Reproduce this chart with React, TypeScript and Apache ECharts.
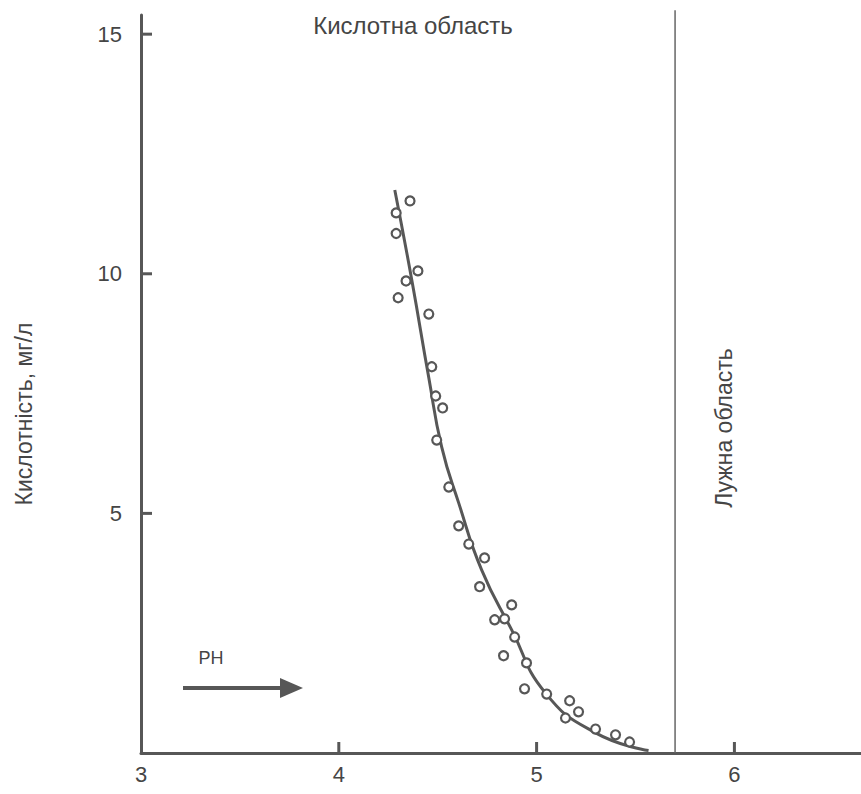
import React, { useEffect, useRef } from "react";
import * as echarts from "echarts";

const xTicks = [3, 4, 5, 6];
const yTicks = [5, 10, 15];
const xTickMarks = [4, 5, 6];

const pointsPH = [4.36, 4.29, 4.29, 4.4, 4.34, 4.3, 4.455, 4.47, 4.49, 4.525, 4.495, 4.556, 4.606, 4.657, 4.737, 4.712, 4.874, 4.788, 4.838, 4.889, 4.833, 4.949, 4.939, 5.051, 5.167, 5.146, 5.212, 5.298, 5.399, 5.47];
const pointsAcidity = [11.52, 11.27, 10.84, 10.06, 9.85, 9.5, 9.16, 8.06, 7.45, 7.2, 6.53, 5.55, 4.74, 4.36, 4.07, 3.47, 3.09, 2.78, 2.8, 2.42, 2.03, 1.88, 1.34, 1.23, 1.09, 0.73, 0.86, 0.5, 0.38, 0.23];

const curvePH = [4.283, 4.369, 4.455, 4.52, 4.606, 4.722, 4.874, 5.045, 5.298, 5.566];
const curveAcidity = [11.75, 9.87, 7.83, 6.39, 5.22, 3.82, 2.57, 1.25, 0.42, 0.05];

const boundaryPH = 5.7;
const boundaryRange = [0, 15.5];

const titleAcid = "Кислотна область";
const titleAlkaline = "Лужна область";
const yName = "Кислотність, мг/л";
const arrowLabel = "PH";

const INK = "#575757";
const TXT = "#454545";
const FONT = "'Liberation Sans', Arial, sans-serif";
const TICK_LEN = 11;

export default function App() {
  const ref = useRef<HTMLDivElement>(null);
  useEffect(() => {
    if (!ref.current) return;
    const chart = echarts.init(ref.current, null, { renderer: "svg" });
    chart.setOption({
      animation: false,
      backgroundColor: "#ffffff",
      grid: { left: 141, right: 0, top: 15, bottom: 41, containLabel: false },
      xAxis: {
        type: "value",
        min: 3,
        max: 6.64,
        interval: 1,
        splitLine: { show: false },
        axisLine: { show: true, lineStyle: { color: INK, width: 3 } },
        axisTick: { show: false },
        axisLabel: {
          color: TXT,
          fontSize: 22,
          fontFamily: FONT,
          margin: 10,
          showMaxLabel: false,
          formatter: (v: number) => (xTicks.includes(v) ? String(v) : ""),
        },
      },
      yAxis: {
        type: "value",
        min: 0,
        max: 15.4,
        interval: 5,
        splitLine: { show: false },
        axisLine: { show: true, lineStyle: { color: INK, width: 3 } },
        axisTick: { show: false },
        axisLabel: {
          color: TXT,
          fontSize: 22,
          fontFamily: FONT,
          margin: 19,
          showMaxLabel: false,
          formatter: (v: number) => (yTicks.includes(v) ? String(v) : ""),
        },
      },
      series: [
        {
          type: "line",
          data: curvePH.map((x, i) => [x, curveAcidity[i]]),
          smooth: 0.5,
          showSymbol: false,
          symbol: "none",
          lineStyle: { color: INK, width: 3 },
          z: 3,
        },
        {
          type: "scatter",
          data: pointsPH.map((x, i) => [x, pointsAcidity[i]]),
          symbol: "circle",
          symbolSize: 9,
          itemStyle: { color: "#ffffff", borderColor: INK, borderWidth: 2.2, opacity: 1 },
          z: 4,
        },
        {
          type: "line",
          data: boundaryRange.map((y) => [boundaryPH, y]),
          showSymbol: false,
          symbol: "none",
          clip: false,
          lineStyle: { color: "#666666", width: 1.5 },
          z: 2,
        },
      ],
    });

    const tickGraphics: any[] = [];
    yTicks.forEach((v) => {
      const p = chart.convertToPixel({ gridIndex: 0 }, [3, v]) as number[];
      tickGraphics.push({
        type: "line",
        shape: { x1: p[0], y1: p[1], x2: p[0] + TICK_LEN, y2: p[1] },
        style: { stroke: INK, lineWidth: 3 },
      });
    });
    xTickMarks.forEach((v) => {
      const p = chart.convertToPixel({ gridIndex: 0 }, [v, 0]) as number[];
      tickGraphics.push({
        type: "line",
        shape: { x1: p[0], y1: p[1], x2: p[0], y2: p[1] - TICK_LEN },
        style: { stroke: INK, lineWidth: 3 },
      });
    });

    chart.setOption({
      graphic: [
        ...tickGraphics,
        {
          type: "text",
          x: 413,
          y: 25,
          style: {
            text: titleAcid,
            fill: TXT,
            font: `24px ${FONT}`,
            align: "center",
            verticalAlign: "middle",
          },
        },
        {
          type: "text",
          x: 724,
          y: 428,
          rotation: Math.PI / 2,
          style: {
            text: titleAlkaline,
            fill: TXT,
            font: `23px ${FONT}`,
            align: "center",
            verticalAlign: "middle",
          },
        },
        {
          type: "text",
          x: 24,
          y: 414,
          rotation: Math.PI / 2,
          style: {
            text: yName,
            fill: TXT,
            font: `23px ${FONT}`,
            align: "center",
            verticalAlign: "middle",
          },
        },
        {
          type: "text",
          x: 211,
          y: 658,
          style: {
            text: arrowLabel,
            fill: TXT,
            font: `18px ${FONT}`,
            align: "center",
            verticalAlign: "middle",
          },
        },
        {
          type: "line",
          shape: { x1: 183, y1: 688, x2: 284, y2: 688 },
          style: { stroke: INK, lineWidth: 4 },
        },
        {
          type: "polygon",
          shape: { points: [[280, 678], [303, 688], [280, 698]] },
          style: { fill: INK },
        },
      ],
    });
    return () => chart.dispose();
  }, []);
  return (
    <div
      ref={ref}
      style={{ position: "fixed", left: 0, top: 0, width: 861, height: 794, background: "#fff" }}
    />
  );
}
